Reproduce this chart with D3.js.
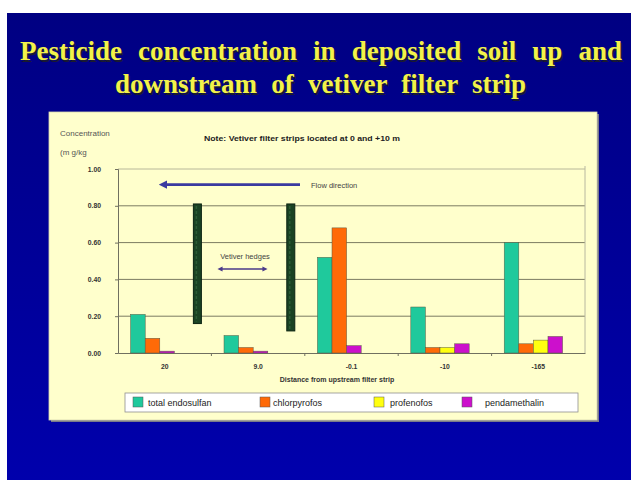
<!DOCTYPE html>
<html>
<head>
<meta charset="utf-8">
<script src="https://cdn.jsdelivr.net/npm/d3@7"></script>
<style>
  html, body { margin: 0; padding: 0; background: #ffffff; }
  svg { display: block; }
</style>
</head>
<body>
<svg id="chart" width="631" height="480"></svg>
<script>
// Distance categories (m from upstream filter strip)
const categories = ["20", "9.0", "-0.1", "-10", "-165"];

// Concentration (mg/kg) per pesticide; null = not detected
const endosulfan    = [0.21, 0.095, 0.52, 0.25, 0.60];
const chlorpyrofos  = [0.08, 0.03, 0.68, 0.03, 0.05];
const profenofos    = [null, null, null, 0.03, 0.07];
const pendamethalin = [0.01, 0.01, 0.04, 0.05, 0.09];

const seriesNames  = ["total endosulfan", "chlorpyrofos", "profenofos", "pendamethalin"];
const seriesValues = [endosulfan, chlorpyrofos, profenofos, pendamethalin];
const seriesColors = ["#1fc99c", "#ff6a08", "#ffff10", "#cc10cc"];

const yTicks = [0, 0.2, 0.4, 0.6, 0.8, 1.0];

// Vetiver hedges drawn at the 0 and +10 m strips (x in category-band units, y extent in data units)
const hedges = [
  { pos: 0.85, y0: 0.16, y1: 0.81 },
  { pos: 1.85, y0: 0.12, y1: 0.81 }
];

const svg = d3.select("#chart");

// Slide background
const defs = svg.append("defs");
const grad = defs.append("linearGradient").attr("id", "slideBg")
  .attr("x1", 0).attr("y1", 0).attr("x2", 0).attr("y2", 1);
grad.append("stop").attr("offset", "0%").attr("stop-color", "#000082");
grad.append("stop").attr("offset", "100%").attr("stop-color", "#0000ac");
svg.append("rect").attr("x", 7).attr("y", 13).attr("width", 624).attr("height", 467)
  .attr("fill", "url(#slideBg)");

// Slide title: justified by widening the word gaps
const titleFont = "'Liberation Serif', 'Times New Roman', serif";
const titleLines = [
  { text: "Pesticide concentration in deposited soil up and", x: 20, y: 60, len: 602 },
  { text: "downstream of vetiver filter strip", x: 115, y: 93, len: 411 }
];
titleLines.forEach(t => {
  const layers = [
    { dx: 1.5, color: "#1a1a30" },
    { dx: 0, color: "#f2f24a" }
  ].map(l => svg.append("text").attr("x", t.x + l.dx).attr("y", t.y + l.dx)
    .attr("font-family", titleFont).attr("font-weight", "bold").attr("font-size", 27)
    .attr("fill", l.color).text(t.text));
  const w = layers[1].node().getComputedTextLength();
  const gaps = t.text.split(" ").length - 1;
  const ws = Math.max(0, (t.len - w) / gaps);
  layers.forEach(l => l.attr("word-spacing", ws));
});

// Chart panel
svg.append("rect").attr("x", 51).attr("y", 114).attr("width", 548).attr("height", 308)
  .attr("fill", "#7a7a8a");
svg.append("rect").attr("x", 49).attr("y", 112).attr("width", 548).attr("height", 308)
  .attr("fill", "#ffffcc").attr("stroke", "#d8d8b0").attr("stroke-width", 0.8);

const plot = { left: 118, right: 585, top: 169, bottom: 353 };

const x = d3.scaleBand().domain(categories).range([plot.left, plot.right]).padding(0);
const slot = d3.scaleBand().domain([0, 1, 2, 3]).range([0, x.bandwidth()])
  .paddingInner(0).paddingOuter(1.2).align(0.36);
const y = d3.scaleLinear().domain([0, 1]).range([plot.bottom, plot.top]);

const font = "'Liberation Sans', Arial, sans-serif";

// Gridlines
const g = svg.append("g");
g.selectAll("line.grid").data(yTicks.filter(d => d > 0)).join("line")
  .attr("x1", plot.left).attr("x2", plot.right)
  .attr("y1", d => y(d)).attr("y2", d => y(d))
  .attr("stroke", d => d === 1 ? "#b8b89a" : "#7c7c62").attr("stroke-width", 1);
g.append("line").attr("x1", plot.right).attr("x2", plot.right)
  .attr("y1", plot.top - 3).attr("y2", plot.bottom)
  .attr("stroke", "#b8b8a0").attr("stroke-width", 1);

// Y axis
const yAxis = d3.axisLeft(y).tickValues(yTicks).tickFormat(d3.format(".2f")).tickSize(3).tickPadding(14);
const ya = svg.append("g").attr("transform", `translate(${plot.left},0)`).call(yAxis);
ya.select(".domain").attr("stroke", "#707060");
ya.selectAll(".tick line").attr("stroke", "#707060");
ya.selectAll(".tick text").attr("font-family", font).attr("font-weight", "bold")
  .attr("font-size", 6.8).attr("fill", "#333");

// X axis
const xAxis = d3.axisBottom(x).tickSize(0).tickPadding(11);
const xa = svg.append("g").attr("transform", `translate(0,${plot.bottom})`).call(xAxis);
xa.select(".domain").attr("stroke", "#707060");
xa.selectAll(".tick text").attr("font-family", font).attr("font-weight", "bold")
  .attr("font-size", 6.8).attr("fill", "#333");
// tick marks between categories
xa.selectAll("line.sep").data(categories.slice(1)).join("line")
  .attr("x1", d => x(d)).attr("x2", d => x(d)).attr("y1", 0).attr("y2", 3)
  .attr("stroke", "#707060");

// Bars: series present in each group fill consecutive slots
const bars = [];
categories.forEach((c, i) => {
  let k = 0;
  seriesValues.forEach((vals, s) => {
    const v = vals[i];
    if (v === null || v === undefined) return;
    bars.push({ cat: c, slot: k++, value: v, color: seriesColors[s] });
  });
});
svg.append("g").selectAll("rect").data(bars).join("rect")
  .attr("x", d => x(d.cat) + slot(d.slot))
  .attr("y", d => y(d.value))
  .attr("width", slot.bandwidth())
  .attr("height", d => y(0) - y(d.value))
  .attr("fill", d => d.color)
  .attr("stroke", "#5a5a40").attr("stroke-width", 0.5);

// Vetiver hedges
const step = x.step();
hedges.forEach(h => {
  const cx = plot.left + step * h.pos;
  svg.append("rect").attr("x", cx - 4).attr("y", y(h.y1)).attr("width", 8)
    .attr("height", y(h.y0) - y(h.y1))
    .attr("fill", "#1a4223").attr("stroke", "#0c2412").attr("stroke-width", 1);
  svg.append("line").attr("x1", cx - 1).attr("x2", cx - 1).attr("y1", y(h.y1) + 2).attr("y2", y(h.y0) - 2)
    .attr("stroke", "#2c5c35").attr("stroke-width", 1.5).attr("stroke-dasharray", "3,2");
});

// Arrow markers
const mk = (id, color) => defs.append("marker").attr("id", id)
  .attr("viewBox", "0 0 10 10").attr("refX", 5).attr("refY", 5)
  .attr("markerWidth", 3.2).attr("markerHeight", 3.2).attr("orient", "auto-start-reverse")
  .append("path").attr("d", "M0,0 L10,5 L0,10 z").attr("fill", color);
mk("flowHead", "#3a3aa0");
mk("hedgeHead", "#4a3a8a");

// Flow direction arrow
const flowY = y(0.915);
svg.append("line").attr("x1", 300).attr("x2", 163).attr("y1", flowY).attr("y2", flowY)
  .attr("stroke", "#3a3aa0").attr("stroke-width", 2.6).attr("marker-end", "url(#flowHead)");
svg.append("text").attr("x", 311).attr("y", flowY + 3).attr("font-family", font)
  .attr("font-size", 7.5).attr("fill", "#444").text("Flow direction");

// Vetiver hedges label and double arrow
svg.append("text").attr("x", 245).attr("y", 259).attr("text-anchor", "middle")
  .attr("font-family", font).attr("font-size", 7.5).attr("fill", "#444").text("Vetiver hedges");
svg.append("line").attr("x1", 220).attr("x2", 265).attr("y1", 269).attr("y2", 269)
  .attr("stroke", "#4a3a8a").attr("stroke-width", 1.6)
  .attr("marker-start", "url(#hedgeHead)").attr("marker-end", "url(#hedgeHead)");

// Note and axis titles
svg.append("text").attr("x", 204).attr("y", 141).attr("font-family", font)
  .attr("font-weight", "bold").attr("font-size", 6.3).attr("fill", "#222")
  .attr("textLength", 196).attr("lengthAdjust", "spacingAndGlyphs")
  .text("Note: Vetiver filter strips  located at 0 and +10 m");
svg.append("text").attr("x", 60).attr("y", 136).attr("font-family", font)
  .attr("font-size", 8).attr("fill", "#555").text("Concentration");
svg.append("text").attr("x", 60).attr("y", 155).attr("font-family", font)
  .attr("font-size", 8).attr("fill", "#555").text("(m g/kg");
svg.append("text").attr("x", 337).attr("y", 382).attr("text-anchor", "middle")
  .attr("font-family", font).attr("font-weight", "bold").attr("font-size", 7)
  .attr("fill", "#333").text("Distance from upstream filter strip");

// Legend
svg.append("rect").attr("x", 125).attr("y", 393).attr("width", 453).attr("height", 19)
  .attr("fill", "#ffffff").attr("stroke", "#909090").attr("stroke-width", 0.8);
const legendX = [133, 260, 374, 462];
const legendTextX = [148, 273, 390, 485];
seriesNames.forEach((name, i) => {
  svg.append("rect").attr("x", legendX[i]).attr("y", 397).attr("width", 10).attr("height", 10)
    .attr("fill", seriesColors[i]).attr("stroke", "#555").attr("stroke-width", 0.5);
  svg.append("text").attr("x", legendTextX[i]).attr("y", 406).attr("font-family", font)
    .attr("font-size", 9).attr("fill", "#222").text(name);
});
</script>
</body>
</html>
